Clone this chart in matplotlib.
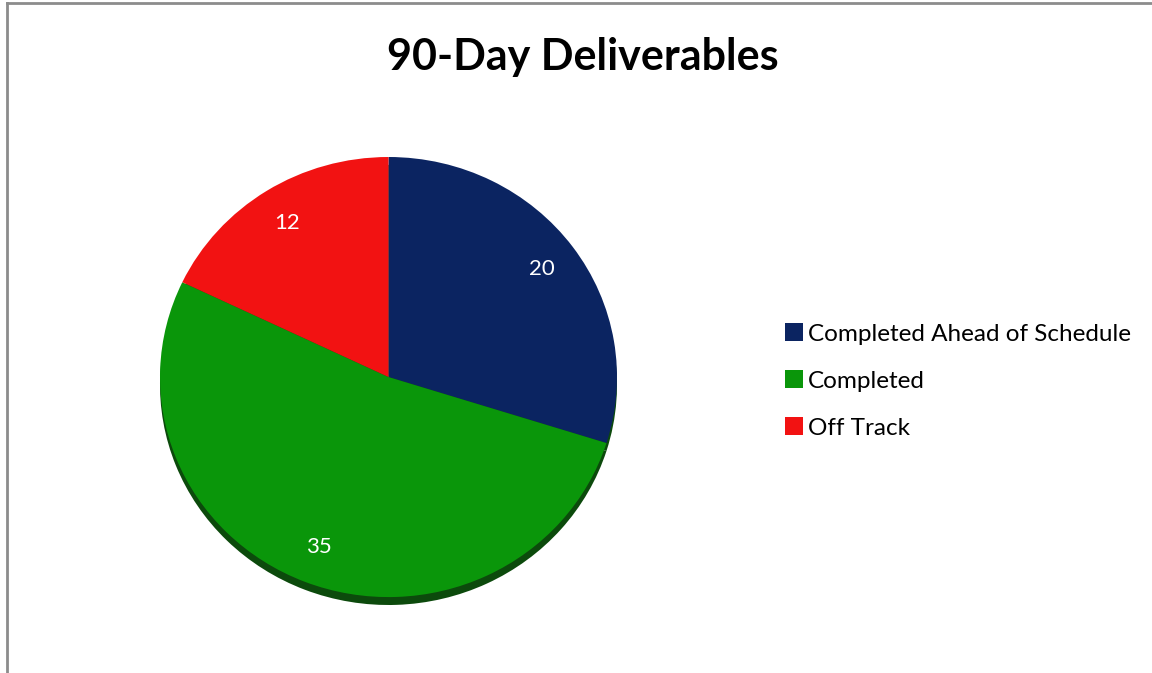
import matplotlib
matplotlib.use("Agg")
from matplotlib import pyplot as plt
from matplotlib.lines import Line2D
from matplotlib.patches import Patch

labels = ["Completed Ahead of Schedule", "Completed", "Off Track"]
values = [20, 35, 12]
colors = ["#0B2461", "#0A960A", "#F21212"]
title = "90-Day Deliverables"

plt.rcParams['font.family'] = ['Lato', 'DejaVu Sans']

fig = plt.figure(figsize=(11.52, 6.73), dpi=100)
fig.patch.set_facecolor("white")

# pie axes, slightly squashed like the tilted 3D pie (extra room below for shadow)
ax = fig.add_axes([160/1152, 1 - 605/673, 457/1152, 448/673])

# shadow: same pie, darker and shifted down
ax.pie(values, colors=["#0c4a0c"] * 3, startangle=90, counterclock=False,
       center=(0, -0.036), radius=1.0, wedgeprops=dict(linewidth=0))

wedges, texts, autotexts = ax.pie(
    values, colors=colors, startangle=90, counterclock=False,
    autopct=lambda p: "%d" % round(p * sum(values) / 100),
    pctdistance=0.83, wedgeprops=dict(linewidth=0),
    textprops=dict(color="white", fontsize=16))
ax.set_aspect("auto")
ax.set_xlim(-1.0, 1.0)
ax.set_ylim(-1.036, 1.0)
ax.axis("off")

fig.text(583/1152, 1 - 57/673, title, ha="center", va="center",
         fontsize=31, fontweight="bold")

handles = [Patch(facecolor=c, edgecolor="none") for c in colors]
fig.legend(handles, labels, loc="center left",
           bbox_to_anchor=(763/1152, 1 - 381/673), frameon=False,
           fontsize=17.5, handlelength=0.75, handleheight=0.75,
           handletextpad=0.2, labelspacing=1.05)

# chart border (left and top edges only visible)
fig.add_artist(Line2D([7/1152, 7/1152], [0, 1 - 3/673], color="#8c8c8c",
                      linewidth=2, transform=fig.transFigure))
fig.add_artist(Line2D([7/1152, 1], [1 - 3/673, 1 - 3/673], color="#8c8c8c",
                      linewidth=2, transform=fig.transFigure))

fig.savefig("out.png", dpi=100)
